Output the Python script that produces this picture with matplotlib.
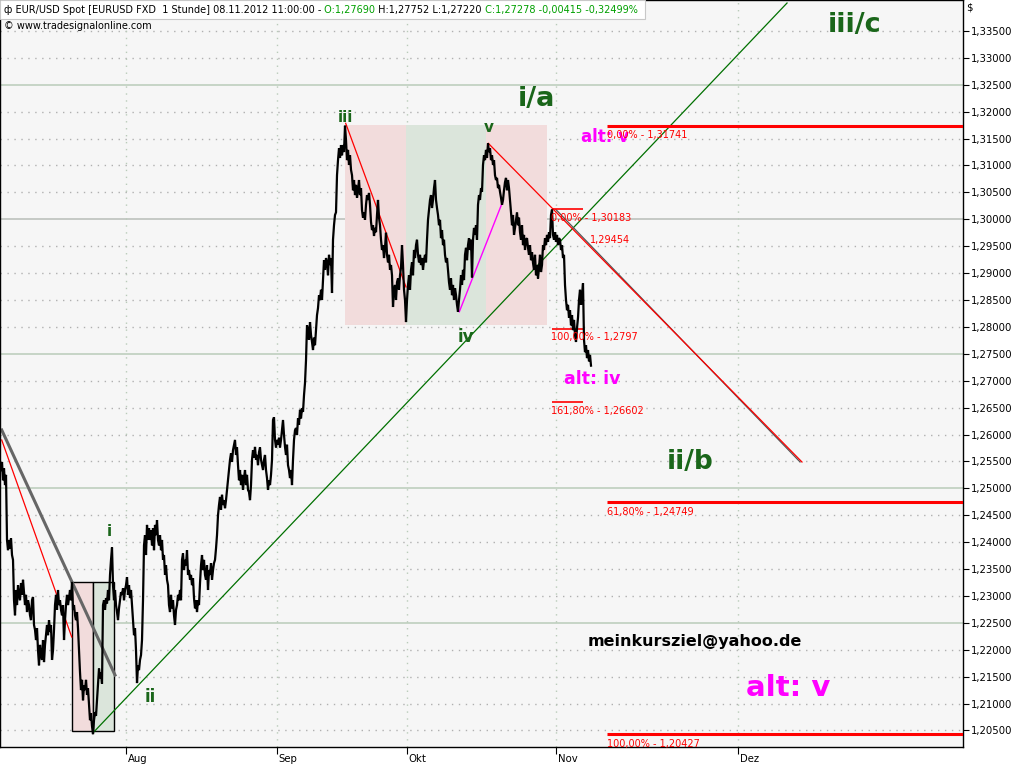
import numpy as np
import matplotlib
matplotlib.use('Agg')
import matplotlib.pyplot as plt
from matplotlib.patches import Rectangle
import matplotlib.transforms as mtransforms

# ---------------- data ----------------
# EUR/USD price path (sampled roughly every 3.7 hours), x in trading days since 1 Aug 2012
t_start = -19.23
step_days = 1 / 6.5
price = [
 1.2534,1.2549,1.2515,1.2537,1.2506,1.2525,1.2404,1.2385,1.2404,1.2388,
 1.2407,1.2376,1.2367,1.2292,1.2264,1.2311,1.2283,1.2320,1.2302,1.2292,
 1.2324,1.2302,1.2330,1.2307,1.2283,1.2302,1.2270,1.2292,1.2283,1.2264,
 1.2255,1.2292,1.2298,1.2246,1.2237,1.2218,1.2240,1.2199,1.2171,1.2209,
 1.2190,1.2181,1.2218,1.2177,1.2209,1.2227,1.2246,1.2227,1.2255,1.2233,
 1.2246,1.2181,1.2199,1.2237,1.2283,1.2302,1.2274,1.2311,1.2283,1.2292,
 1.2274,1.2264,1.2283,1.2218,1.2255,1.2283,1.2302,1.2283,1.2296,1.2311,
 1.2292,1.2326,1.2274,1.2283,1.2264,1.2255,1.2270,1.2240,1.2199,1.2158,
 1.2125,1.2144,1.2106,1.2134,1.2125,1.2144,1.2116,1.2128,1.2097,1.2069,
 1.2082,1.2058,1.2043,1.2069,1.2084,1.2077,1.2106,1.2134,1.2165,1.2147,
 1.2158,1.2137,1.2283,1.2292,1.2274,1.2296,1.2286,1.2311,1.2292,1.2339,
 1.2367,1.2390,1.2320,1.2292,1.2311,1.2283,1.2270,1.2255,1.2277,1.2292,
 1.2307,1.2302,1.2314,1.2292,1.2311,1.2320,1.2335,1.2302,1.2320,1.2296,
 1.2311,1.2283,1.2255,1.2227,1.2240,1.2199,1.2138,1.2171,1.2162,1.2181,
 1.2190,1.2218,1.2292,1.2394,1.2413,1.2376,1.2432,1.2404,1.2426,1.2404,
 1.2422,1.2394,1.2426,1.2385,1.2432,1.2413,1.2441,1.2404,1.2394,1.2413,
 1.2385,1.2404,1.2367,1.2376,1.2339,1.2357,1.2330,1.2320,1.2283,1.2270,
 1.2302,1.2277,1.2292,1.2264,1.2246,1.2274,1.2283,1.2302,1.2292,1.2311,
 1.2292,1.2367,1.2379,1.2348,1.2367,1.2357,1.2385,1.2339,1.2348,1.2330,
 1.2339,1.2320,1.2333,1.2296,1.2277,1.2292,1.2270,1.2292,1.2283,1.2324,
 1.2357,1.2376,1.2348,1.2367,1.2339,1.2330,1.2357,1.2311,1.2348,1.2339,
 1.2361,1.2330,1.2348,1.2361,1.2367,1.2388,1.2413,1.2450,1.2469,1.2484,
 1.2460,1.2488,1.2469,1.2478,1.2463,1.2478,1.2497,1.2515,1.2537,1.2553,
 1.2565,1.2549,1.2571,1.2581,1.2590,1.2562,1.2576,1.2543,1.2515,1.2534,
 1.2506,1.2525,1.2497,1.2519,1.2534,1.2506,1.2525,1.2497,1.2493,1.2478,
 1.2506,1.2553,1.2571,1.2557,1.2577,1.2553,1.2562,1.2543,1.2567,1.2576,
 1.2553,1.2543,1.2534,1.2553,1.2562,1.2534,1.2519,1.2497,1.2515,1.2506,
 1.2525,1.2553,1.2627,1.2632,1.2590,1.2576,1.2590,1.2581,1.2594,1.2576,
 1.2590,1.2608,1.2627,1.2599,1.2577,1.2562,1.2581,1.2543,1.2534,1.2519,
 1.2534,1.2506,1.2553,1.2590,1.2608,1.2612,1.2599,1.2630,1.2618,1.2646,
 1.2630,1.2649,1.2642,1.2673,1.2696,1.2738,1.2803,1.2794,1.2776,1.2809,
 1.2785,1.2772,1.2757,1.2780,1.2766,1.2794,1.2822,1.2835,1.2859,1.2850,
 1.2869,1.2850,1.2887,1.2924,1.2906,1.2928,1.2920,1.2896,1.2934,1.2915,
 1.2928,1.2863,1.2962,1.2989,1.3008,1.3013,1.3082,1.3110,1.3132,1.3114,
 1.3138,1.3119,1.3138,1.3125,1.3174,1.3147,1.3110,1.3129,1.3101,1.3119,
 1.3092,1.3082,1.3054,1.3073,1.3045,1.3064,1.3040,1.3054,1.3073,1.3045,
 1.3058,1.3017,1.3003,1.3013,1.2999,1.3027,1.3045,1.3036,1.3049,1.3027,
 1.2995,1.2980,1.2989,1.2969,1.2984,1.2976,1.3008,1.3036,1.3003,1.2989,
 1.2962,1.2943,1.2952,1.2928,1.2947,1.2975,1.2934,1.2920,1.2934,1.2906,
 1.2915,1.2896,1.2837,1.2869,1.2878,1.2850,1.2883,1.2890,1.2869,1.2896,
 1.2910,1.2952,1.2915,1.2869,1.2850,1.2809,1.2850,1.2878,1.2896,1.2869,
 1.2906,1.2920,1.2896,1.2943,1.2928,1.2952,1.2962,1.2934,1.2920,1.2934,
 1.2915,1.2928,1.2906,1.2924,1.2934,1.2920,1.2962,1.2999,1.3017,1.3036,
 1.3045,1.3021,1.3036,1.3058,1.3073,1.3036,1.3021,1.3008,1.2989,1.2999,
 1.2965,1.2980,1.2952,1.2962,1.2934,1.2920,1.2928,1.2906,1.2883,1.2869,
 1.2890,1.2859,1.2878,1.2850,1.2872,1.2859,1.2841,1.2828,1.2850,1.2869,
 1.2896,1.2878,1.2906,1.2887,1.2934,1.2947,1.2924,1.2952,1.2965,1.2943,
 1.2962,1.2892,1.2962,1.2984,1.2971,1.2989,1.2962,1.3027,1.3045,1.3036,
 1.3058,1.3051,1.3101,1.3119,1.3110,1.3129,1.3114,1.3141,1.3125,1.3132,
 1.3110,1.3119,1.3101,1.3110,1.3082,1.3073,1.3077,1.3058,1.3064,1.3051,
 1.3040,1.3027,1.3036,1.3054,1.3069,1.3077,1.3054,1.3073,1.3058,1.3036,
 1.3013,1.2989,1.3008,1.2971,1.2984,1.2999,1.3013,1.2989,1.3003,1.2976,
 1.2962,1.2989,1.2952,1.2971,1.2943,1.2962,1.2965,1.2947,1.2934,1.2952,
 1.2924,1.2939,1.2919,1.2906,1.2934,1.2896,1.2915,1.2890,1.2910,1.2934,
 1.2902,1.2915,1.2952,1.2943,1.2965,1.2952,1.2971,1.2958,1.2976,1.2965,
 1.3008,1.3018,1.2971,1.2962,1.2976,1.2958,1.2971,1.2952,1.2965,1.2962,
 1.2943,1.2952,1.2928,1.2934,1.2878,1.2850,1.2831,1.2841,1.2817,1.2831,
 1.2803,1.2822,1.2794,1.2813,1.2785,1.2772,1.2798,1.2817,1.2850,1.2869,
 1.2841,1.2859,1.2881,1.2776,1.2753,1.2766,1.2742,1.2757,1.2736,1.2748,
 1.2728,
]

month_pos = [0, 23.2, 43.2, 66.1, 94.2]
month_labels = ['Aug', 'Sep', 'Okt', 'Nov', 'Dez']

fib_long_levels = [1.31741, 1.24749, 1.20427]
fib_long_labels = ['0,00% - 1,31741', '61,80% - 1,24749', '100,00% - 1,20427']
fib_short_levels = [1.30183, 1.2797, 1.26602]
fib_short_labels = ['0,00% - 1,30183', '100,00% - 1,2797', '161,80% - 1,26602']

t = t_start + np.arange(len(price)) * step_days

# ---------------- figure ----------------
fig = plt.figure(figsize=(10.24, 7.68), dpi=100)
fig.patch.set_facecolor('white')
ax = fig.add_axes([0, 21 / 768, 963 / 1024, 747 / 768])
ax.set_facecolor('#f6f6f6')
ax.set_xlim(-19.385, 128.77)
ax.set_ylim(1.20192, 1.34076)

GRIDC = '#b9cbb9'
DOTC = '#b0b0b0'
for lvl in np.arange(1.205, 1.3351, 0.005):
    lvl = round(lvl, 3)
    k = round(lvl * 1000)
    if k % 25 == 0:
        col = '#b8bdb8' if k == 1300 else GRIDC
        ax.axhline(lvl, color=col, lw=1.1, zorder=0.5)
    else:
        ax.axhline(lvl, color=DOTC, lw=1.0, ls=(0, (1, 4)), zorder=0.5)
for mp in month_pos:
    ax.axvline(mp, color=GRIDC, lw=1.0, ls=(0, (1, 4)), zorder=0.5)

# boxes
pink = '#f2dcdc'
green = '#dbe5db'
ax.add_patch(Rectangle((-8.28, 1.20489), 3.23, 1.23268 - 1.20489, facecolor=pink, edgecolor='black', lw=1.0, zorder=1))
ax.add_patch(Rectangle((-5.05, 1.20489), 3.25, 1.23268 - 1.20489, facecolor=green, edgecolor='black', lw=1.0, zorder=1))
ax.add_patch(Rectangle((33.69, 1.28035), 43.08 - 33.69, 1.31753 - 1.28035, facecolor=pink, edgecolor='none', zorder=1))
ax.add_patch(Rectangle((43.08, 1.28035), 55.38 - 43.08, 1.31753 - 1.28035, facecolor=green, edgecolor='none', zorder=1))
ax.add_patch(Rectangle((55.38, 1.28035), 64.77 - 55.38, 1.31753 - 1.28035, facecolor=pink, edgecolor='none', zorder=1))

# trend lines
ax.plot([-19.12, -1.69], [1.26084, 1.21530], color='#666666', lw=2.2, zorder=2)
ax.plot([-19.12, -8.35], [1.25898, 1.22236], color='red', lw=0.9, zorder=2)
ax.plot([-5.12, 101.7], [1.2045, 1.3402], color='#007000', lw=0.9, zorder=2)
ax.plot([33.8, 43.08], [1.31784, 1.28742], color='red', lw=0.9, zorder=3)
ax.plot([51.28, 58.05], [1.28282, 1.30359], color='#ff00ff', lw=1.0, zorder=3)
ax.plot([66.15, 103.7], [1.3018, 1.2549], color='#555555', lw=0.9, zorder=2)
ax.plot([55.74, 104.0], [1.31412, 1.25489], color='red', lw=0.9, zorder=2.5)

# price
ax.plot(t, price, color='black', lw=1.6, zorder=4, solid_joinstyle='miter')

# fib lines
for lvl, lab in zip(fib_long_levels, fib_long_labels):
    ax.plot([73.95, 128.77], [lvl, lvl], color='red', lw=2.2, zorder=3, solid_capstyle='butt')
    ax.text(73.95, lvl - 0.0009, lab, color='red', fontsize=7, ha='left', va='top', zorder=5)
for lvl, lab in zip(fib_short_levels, fib_short_labels):
    ax.plot([65.49, 70.35], [lvl, lvl], color='red', lw=1.2, zorder=3, solid_capstyle='butt')
    ax.text(65.4, lvl - 0.0007, lab, color='red', fontsize=7, ha='left', va='top', zorder=5)
ax.text(71.38, 1.29615, '1,29454', color='red', fontsize=7, ha='left', va='center', zorder=5)

# wave labels
WG = '#1a661a'
for s, x, y, fs in [('iii', 33.69, 1.31883, 11), ('v', 55.85, 1.31697, 11), ('iv', 52.31, 1.27812, 12),
                    ('i', -2.62, 1.24206, 11), ('ii', 3.69, 1.21121, 12),
                    ('i/a', 63.08, 1.32236, 19.5), ('ii/b', 86.77, 1.25489, 19),
                    ('iii/c', 112.15, 1.33611, 19.5)]:
    ax.text(x, y, s, color=WG, fontsize=fs, fontweight='bold', ha='center', va='center', zorder=6)

MG = '#ff00ff'
ax.text(73.7, 1.3153, 'alt: v', color=MG, fontsize=12, fontweight='bold', ha='center', va='center', zorder=4.5)
ax.text(71.69, 1.27032, 'alt: iv', color=MG, fontsize=12.5, fontweight='bold', ha='center', va='center', zorder=6)
ax.text(101.85, 1.21288, 'alt: v', color=MG, fontsize=21, fontweight='bold', ha='center', va='center', zorder=6)
ax.text(87.54, 1.22162, 'meinkursziel@yahoo.de', color='black', fontsize=11.5, fontweight='bold',
        ha='center', va='center', zorder=6)

# header
ax.add_patch(Rectangle((0, 1 - 19 / 747), 645 / 963, 19 / 747, transform=ax.transAxes,
                       facecolor='white', edgecolor='#c8c8c8', lw=0.8, zorder=7))
parts = [('ф EUR/USD Spot [EURUSD FXD  1 Stunde] 08.11.2012 11:00:00 -', 'black'),
         (' O:1,27690', '#00a000'), (' H:1,27752 L:1,27220', 'black'),
         (' C:1,27278 -0,00415 -0,32499%', '#00a000')]
prev = ax.text(4 / 963, 1 - 10 / 747, parts[0][0], transform=ax.transAxes, fontsize=7.05,
               color=parts[0][1], ha='left', va='center', zorder=8)
for s, c in parts[1:]:
    prev = ax.annotate(s, xy=(1, 0), xycoords=prev, fontsize=7.05, color=c, ha='left', va='bottom', zorder=8)
ax.text(4 / 963, 1 - 26 / 747, '© www.tradesignalonline.com', transform=ax.transAxes, fontsize=7.05,
        color='black', ha='left', va='center', zorder=8)

# axes styling
for sp in ax.spines.values():
    sp.set_color('black')
    sp.set_linewidth(1.0)
ax.yaxis.tick_right()
yt = np.round(np.arange(1.205, 1.3351, 0.005), 3)
ax.set_yticks(yt)
ax.set_yticklabels([f'{v:.5f}'.replace('.', ',') for v in yt])
ax.tick_params(axis='y', direction='out', length=4, width=0.8, pad=2, labelsize=7.3, colors='black')
ax.set_xticks(month_pos)
ax.set_xticklabels(month_labels)
ax.tick_params(axis='x', direction='out', length=5, width=0.8, pad=0, labelsize=7.3)
offset = mtransforms.ScaledTranslation(2 / 100, 0, fig.dpi_scale_trans)
for lab in ax.get_xticklabels():
    lab.set_horizontalalignment('left')
    lab.set_transform(lab.get_transform() + offset)

fig.text(966 / 1024, 1 - 8 / 768, '$', fontsize=7.3, ha='left', va='center')

fig.savefig('out.png', dpi=100)
